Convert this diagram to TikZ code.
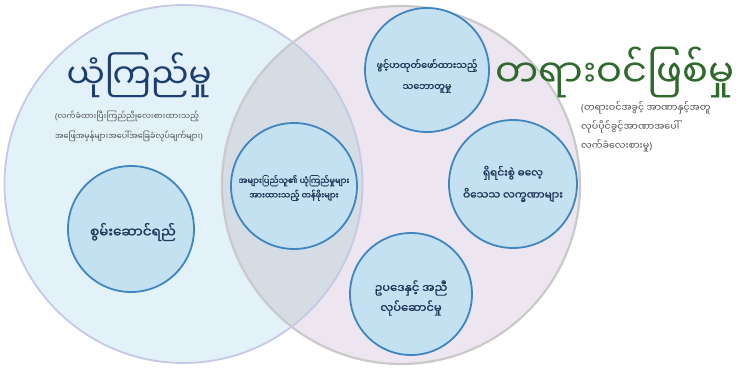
\documentclass[tikz,border=0pt]{standalone}
\usepackage{fontspec}
\newfontfamily\my[Script=Myanmar]{Noto Sans Myanmar UI}
\newfontfamily\myb[Script=Myanmar, FakeBold=1.6]{Noto Sans Myanmar UI}
\newfontfamily\parenfont{Noto Sans}
\newcommand{\lpar}{{\parenfont(}}
\newcommand{\rpar}{{\parenfont)}}
\definecolor{leftfill}{HTML}{E3F1F9}
\definecolor{rightfill}{HTML}{EDE5EF}
\definecolor{overlapfill}{HTML}{D5DCE4}
\definecolor{leftborder}{HTML}{C6C9E6}
\definecolor{rightborder}{HTML}{CACACA}
\definecolor{smallfill}{HTML}{C4E1F1}
\definecolor{smallborder}{HTML}{3F86C1}
\definecolor{titleblue}{HTML}{1D3E70}
\definecolor{titlegreen}{HTML}{2F6A2C}
\definecolor{subgray}{HTML}{4A4A4A}
\definecolor{circtext}{HTML}{22365A}
\tikzset{
  bigleft/.style={draw=leftborder, line width=1.8pt},
  bigright/.style={draw=rightborder, line width=2.2pt},
  smallc/.style={circle, draw=smallborder, fill=smallfill, line width=1.8pt, inner sep=0pt},
  ctext/.style={align=center, text=circtext, inner sep=0pt},
  titletext/.style={font=\my\fontsize{34}{40}\selectfont},
  subtext/.style={anchor=north west, align=left, text=subgray, inner sep=0pt}
}
\begin{document}
\begin{tikzpicture}[x=1pt,y=-1pt]
\useasboundingbox (0,0) rectangle (742,371);
\fill[white] (0,0) rectangle (742,371);
% big circles
\fill[leftfill] (183.5,184) circle (179pt);
\fill[rightfill] (401,185) circle (179pt);
\begin{scope}
  \clip (183.5,184) circle (179pt);
  \fill[overlapfill] (401,185) circle (179pt);
\end{scope}
\draw[bigright] (401,185) circle (179pt);
\draw[bigleft] (183.5,184) circle (179pt);
% small circles
\node[smallc, minimum size=126pt] (perf) at (131,229) {};
\node[smallc, minimum size=126pt] (shared) at (294,186) {};
\node[smallc, minimum size=124pt] (consent) at (427,70) {};
\node[smallc, minimum size=128pt] (moral) at (513,184) {};
\node[smallc, minimum size=122pt] (legal) at (411,294) {};
% circle texts
\node[ctext, font=\myb\fontsize{13.5}{20}\selectfont] (perfT) at (133,232) {စွမ်းဆောင်ရည်};
\node[ctext, font=\myb\fontsize{8.3}{14.5}\selectfont] (sharedT) at (294,188) {အများပြည်သူ၏ ယုံကြည်မှုများ\\အားထားသည့် တန်ဖိုးများ};
\node[ctext, font=\myb\fontsize{9.5}{21}\selectfont] (consentT) at (427,76) {ဖွင့်ဟထုတ်ဖော်ထားသည့်\\သဘောတူမှု};
\node[ctext, font=\myb\fontsize{10.5}{22}\selectfont] (moralT) at (513,184) {ရှိရင်းစွဲ ဓလေ့\\ဝိသေသ လက္ခဏာများ};
\node[ctext, font=\myb\fontsize{11.5}{20}\selectfont] (legalT) at (411,298) {ဥပဒေနှင့် အညီ\\လုပ်ဆောင်မှု};
% titles
\node[titletext, text=titleblue] (trust) at (139,75) {ယုံကြည်မှု};
\node[titletext, text=titlegreen, font=\my\fontsize{38.5}{44}\selectfont] (legit) at (615,72) {တရားဝင်ဖြစ်မှု};
% subtitles
\node[subtext, font=\my\fontsize{8}{20}\selectfont] (trustsub) at (55,111) {\lpar လက်ခံထားပြီးကြည်ညိုလေးစားထားသည့်\\အဖြေအမှန်များအပေါ်အခြေခံလုပ်ချက်များ\rpar};
\node[subtext, font=\my\fontsize{9.5}{19}\selectfont] (legitsub) at (581,101) {\lpar တရားဝင်အခွင့် အာဏာနှင့်အတူ\\လုပ်ပိုင်ခွင့်အာဏာအပေါ်\\လက်ခံလေးစားမှု\rpar};
\end{tikzpicture}
\end{document}
